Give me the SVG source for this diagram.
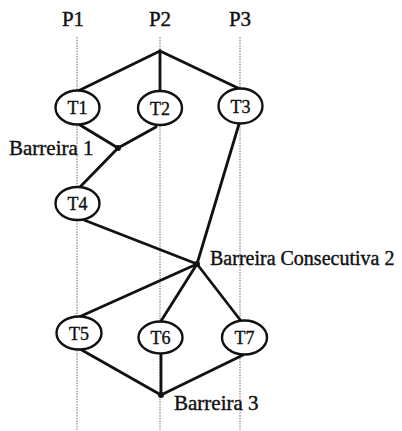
<svg xmlns="http://www.w3.org/2000/svg" width="402" height="431" viewBox="0 0 402 431">
  <style>
    .lane { stroke: #8a8a8a; stroke-width: 1.2; stroke-dasharray: 1.5 1.2; fill: none; }
    .edge { stroke: #111; stroke-width: 2.8; fill: none; stroke-linecap: round; }
    .task ellipse { fill: #fff; stroke: #111; stroke-width: 2.4; }
    .task text { font-family: "Liberation Serif", "Times New Roman", serif; font-size: 18px; fill: #111; stroke: #111; stroke-width: 0.35; text-anchor: middle; }
    .label { font-family: "Liberation Serif", "Times New Roman", serif; font-size: 21px; fill: #111; stroke: #111; stroke-width: 0.4; }
    .dot { fill: #111; }
  </style>
  <rect width="402" height="431" fill="#fff"/>

  <!-- process lanes -->
  <g id="lanes">
    <text class="label" x="73" y="26" text-anchor="middle">P1</text>
    <text class="label" x="160" y="26" text-anchor="middle">P2</text>
    <text class="label" x="240" y="26" text-anchor="middle">P3</text>
    <line class="lane" x1="77" y1="37" x2="77" y2="431"/>
    <line class="lane" x1="160" y1="37" x2="160" y2="431"/>
    <line class="lane" x1="240" y1="37" x2="240" y2="431"/>
  </g>

  <!-- connectors -->
  <g id="connectors">
    <line class="edge" x1="160" y1="51" x2="78" y2="91"/>
    <line class="edge" x1="160" y1="51" x2="160" y2="91"/>
    <line class="edge" x1="160" y1="51" x2="240" y2="89"/>
    <line class="edge" x1="80" y1="125" x2="118" y2="148"/>
    <line class="edge" x1="156" y1="127" x2="118" y2="148"/>
    <line class="edge" x1="118" y1="148" x2="80" y2="187"/>
    <line class="edge" x1="84" y1="220" x2="197" y2="264"/>
    <line class="edge" x1="239" y1="124" x2="197" y2="264"/>
    <line class="edge" x1="197" y1="264" x2="79" y2="317"/>
    <line class="edge" x1="197" y1="264" x2="161" y2="321"/>
    <line class="edge" x1="197" y1="264" x2="241" y2="321"/>
    <line class="edge" x1="80" y1="349" x2="161" y2="395"/>
    <line class="edge" x1="161" y1="354" x2="161" y2="395"/>
    <line class="edge" x1="243" y1="355" x2="161" y2="395"/>
  </g>

  <!-- tasks -->
  <g id="T1" class="task"><ellipse cx="77.5" cy="107.5" rx="22" ry="17"/><text x="77.5" y="114">T1</text></g>
  <g id="T2" class="task"><ellipse cx="160" cy="108" rx="22" ry="17"/><text x="160" y="114.5">T2</text></g>
  <g id="T3" class="task"><ellipse cx="240.5" cy="106" rx="22" ry="17.5"/><text x="240.5" y="112.5">T3</text></g>
  <g id="T4" class="task"><ellipse cx="77.5" cy="203.5" rx="22" ry="16.5"/><text x="77.5" y="210">T4</text></g>
  <g id="T5" class="task"><ellipse cx="79" cy="333" rx="22.5" ry="16.5"/><text x="79" y="339.5">T5</text></g>
  <g id="T6" class="task"><ellipse cx="160.5" cy="337.5" rx="22" ry="16"/><text x="160.5" y="344">T6</text></g>
  <g id="T7" class="task"><ellipse cx="244.5" cy="337.5" rx="22.5" ry="17"/><text x="244.5" y="344">T7</text></g>

  <!-- barriers -->
  <g id="barreira1">
    <circle class="dot" cx="118" cy="148" r="3"/>
    <text class="label" x="9" y="155">Barreira 1</text>
  </g>
  <g id="barreira2">
    <circle class="dot" cx="197" cy="264" r="3"/>
    <text class="label" x="210" y="265" style="font-size:20px">Barreira Consecutiva 2</text>
  </g>
  <g id="barreira3">
    <circle class="dot" cx="161" cy="395" r="3"/>
    <text class="label" x="174" y="410">Barreira 3</text>
  </g>
</svg>
